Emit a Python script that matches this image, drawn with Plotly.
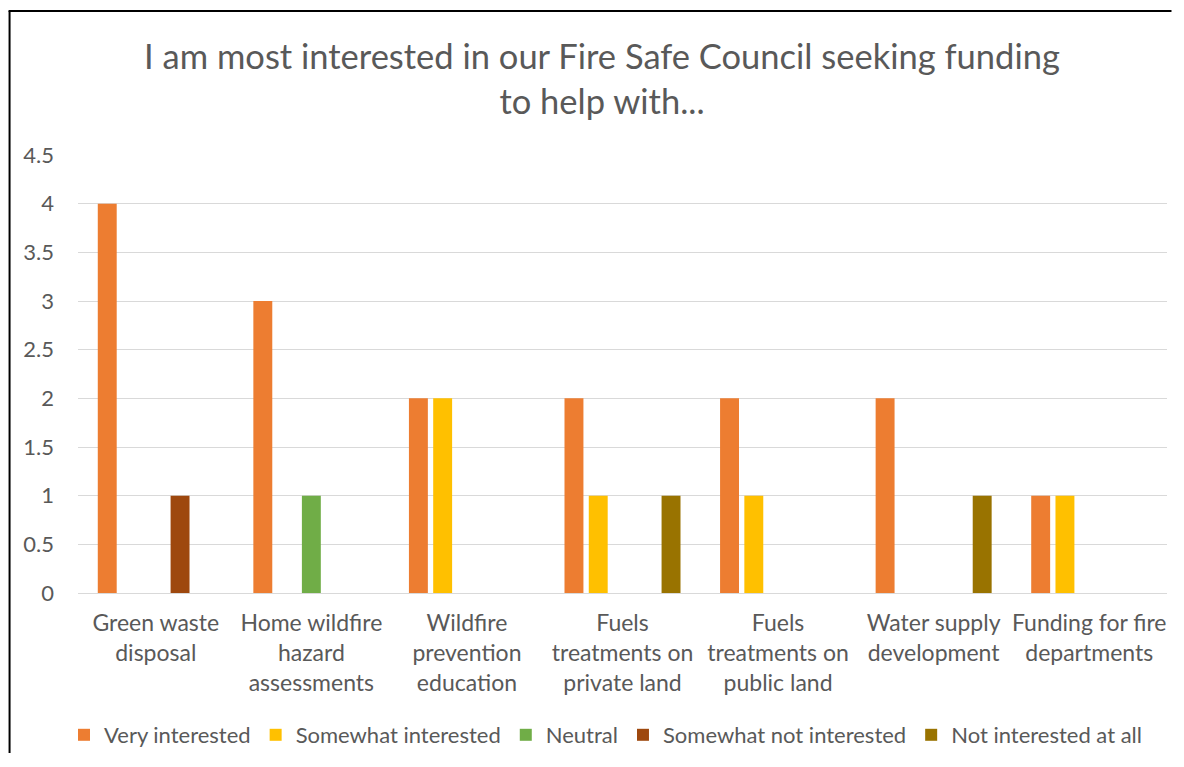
import plotly.graph_objects as go

categories = [
    "Green waste<br>disposal",
    "Home wildfire<br>hazard<br>assessments",
    "Wildfire<br>prevention<br>education",
    "Fuels<br>treatments on<br>private land",
    "Fuels<br>treatments on<br>public land",
    "Water supply<br>development",
    "Funding for fire<br>departments",
]

very_interested = [4, 3, 2, 2, 2, 2, 1]
somewhat_interested = [0, 0, 2, 1, 1, 0, 1]
neutral = [0, 1, 0, 0, 0, 0, 0]
somewhat_not = [1, 0, 0, 0, 0, 0, 0]
not_at_all = [0, 0, 0, 1, 0, 1, 0]

series = [
    ("Very interested", very_interested, "#ED7D31"),
    ("Somewhat interested", somewhat_interested, "#FFC000"),
    ("Neutral", neutral, "#70AD47"),
    ("Somewhat not interested", somewhat_not, "#9E480E"),
    ("Not interested at all", not_at_all, "#997300"),
]

FONT = "Lato, Calibri, Carlito, sans-serif"
GREY = "#595959"

# page body has an 8px margin, so the figure is kept inside the window
W, H = 1164, 745
L, R, T, B = 69.5, 4.5, 147, 160
PW, PH = W - L - R, H - T - B


def px_x(p):
    return (p - L) / PW


def px_y(p):
    return (T + PH - p) / PH


fig = go.Figure()
for name, vals, color in series:
    fig.add_trace(go.Bar(x=categories, y=vals, name=name,
                         marker=dict(color=color, line=dict(width=0))))

# chart border (left and top edges only are in view); kept inside the svg
border = dict(color="black", width=2)

fig.update_layout(
    width=W, height=H, autosize=False,
    barmode="group", bargap=0.22, bargroupgap=0.22,
    plot_bgcolor="white", paper_bgcolor="white",
    margin=dict(l=L, r=R, t=T, b=B, autoexpand=False),
    font=dict(family=FONT, color=GREY, size=22),
    title=dict(
        text="I am most interested in our Fire Safe Council seeking funding<br>to help with...",
        x=594 / W, xanchor="center", y=1 - 61 / H, yanchor="middle",
        font=dict(family=FONT, size=34.5, color=GREY),
    ),
    legend=dict(orientation="h", x=528 / PW, xanchor="center",
                y=-(727 - 585) / PH, yanchor="middle",
                bgcolor="rgba(0,0,0,0)",
                font=dict(family=FONT, size=22, color=GREY)),
    showlegend=True,
    shapes=[
        dict(type="line", xref="paper", yref="paper",
             x0=px_x(1), x1=px_x(1), y0=px_y(H), y1=px_y(3), line=border),
        dict(type="line", xref="paper", yref="paper",
             x0=px_x(0), x1=px_x(W), y0=px_y(3), y1=px_y(3), line=border),
    ],
)

fig.update_yaxes(range=[0, 4.5], dtick=0.5, showgrid=True,
                 gridcolor="#D9D9D9", gridwidth=1.3, zeroline=False,
                 ticklabelstandoff=23, tickfont=dict(size=22))
fig.update_xaxes(showline=True, linecolor="#D9D9D9", linewidth=1.3,
                 ticklabelstandoff=9, tickfont=dict(size=23), tickangle=0)

fig.write_html("out.html")
